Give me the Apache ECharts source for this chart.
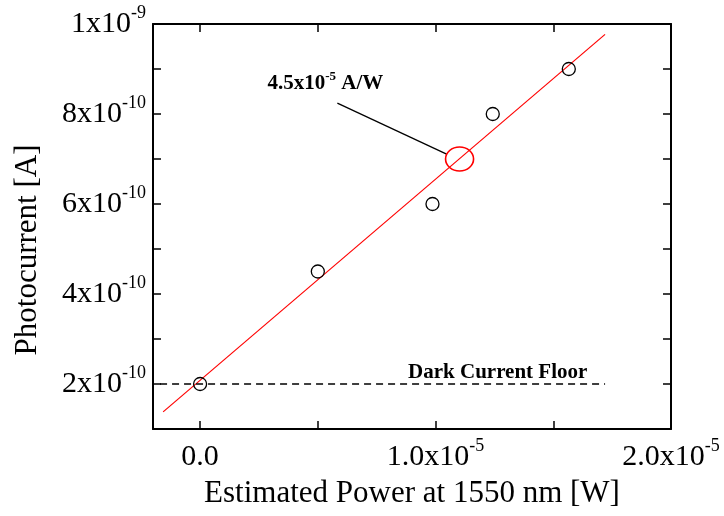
<!DOCTYPE html>
<html>
<head>
<meta charset="utf-8">
<script src="https://cdn.jsdelivr.net/npm/echarts@6/dist/echarts.min.js"></script>
<style>html,body{margin:0;padding:0;background:#fff}#c{width:724px;height:516px}</style>
</head>
<body>
<div id="c"></div>
<script>
// Measured data (power in W, photocurrent in A)
const powerW = [0, 0.5e-5, 0.987e-5, 1.243e-5, 1.566e-5];
const currentA = [2e-10, 4.5e-10, 6e-10, 8e-10, 9e-10];
// Linear fit line (4.5x10^-5 A/W) endpoints
const fitX = [-0.157e-5, 1.72e-5];
const fitY = [1.38e-10, 9.77e-10];
// Dark current floor
const floorX = [-0.17e-5, 1.72e-5];
const floorY = [2e-10, 2e-10];
// Annotation: ellipse on fit line, leader line, labels
const ellipseX = [1.102e-5];
const ellipseY = [7.0e-10];
const leaderX = [0.583e-5, 1.047e-5];
const leaderY = [8.24e-10, 7.11e-10];
const annotX = [0.532e-5];
const annotY = [8.67e-10];
const floorLabelX = [1.264e-5];
const floorLabelY = [2.244e-10];
// Axes
const xRange = [-0.2e-5, 2.0e-5];
const yRange = [1e-10, 1e-9];
const xTickValues = [0, 0.5e-5, 1.0e-5, 1.5e-5, 2.0e-5];
const xLabelValues = [0, 1.0e-5, 2.0e-5];
const yTickValues = [2e-10, 3e-10, 4e-10, 5e-10, 6e-10, 7e-10, 8e-10, 9e-10, 1e-9];
const yLabelValues = [2e-10, 4e-10, 6e-10, 8e-10, 1e-9];
const xTitle = 'Estimated Power at 1550 nm [W]';
const yTitle = 'Photocurrent [A]';

const FONT = '"Liberation Serif", "DejaVu Serif", serif';
const rich = {
  m: {fontFamily: FONT, fontSize: 30, color: '#000', lineHeight: 40, verticalAlign: 'middle'},
  sup: {fontFamily: FONT, fontSize: 18, color: '#000', lineHeight: 18, verticalAlign: 'top'}
};
const annotRich = {
  b: {fontFamily: FONT, fontSize: 21, fontWeight: 'bold', color: '#000', lineHeight: 28, verticalAlign: 'middle'},
  s: {fontFamily: FONT, fontSize: 13, fontWeight: 'bold', color: '#000', lineHeight: 13, verticalAlign: 'top'}
};
function xFmt(v) {
  const m = Math.round(v / 1e-6) / 10;
  if (Math.abs(m) < 1e-9) return '{m|0.0}';
  return '{m|' + m.toFixed(1) + 'x10}{sup|-5}';
}
function yFmt(v) {
  const n = Math.round(v / 1e-10);
  if (n === 10) return '{m|1x10}{sup|-9}';
  return '{m|' + n + 'x10}{sup|-10}';
}
const axisLine = {show: true, onZero: false, lineStyle: {color: '#000', width: 2}};
const tick = (vals) => ({show: true, inside: true, length: 8, customValues: vals, lineStyle: {color: '#000', width: 1.5}});
const pairs = (xs, ys) => xs.map((x, i) => [x, ys[i]]);

const chart = echarts.init(document.getElementById('c'), null, {renderer: 'canvas'});
chart.setOption({
  animation: false,
  backgroundColor: '#fff',
  grid: {left: 153, right: 53, top: 24, bottom: 87, containLabel: false},
  xAxis: [
    {type: 'value', position: 'bottom', min: xRange[0], max: xRange[1],
     axisLine, axisTick: tick(xTickValues), splitLine: {show: false},
     axisLabel: {show: true, customValues: xLabelValues, formatter: xFmt, rich, margin: 8, hideOverlap: false, showMinLabel: true, showMaxLabel: true}},
    {type: 'value', position: 'top', min: xRange[0], max: xRange[1],
     axisLine, axisTick: tick(xTickValues), splitLine: {show: false}, axisLabel: {show: false}}
  ],
  yAxis: [
    {type: 'value', position: 'left', min: yRange[0], max: yRange[1],
     axisLine, axisTick: tick(yTickValues), splitLine: {show: false},
     axisLabel: {show: true, customValues: yLabelValues, formatter: yFmt, rich, margin: 7, hideOverlap: false, showMinLabel: true, showMaxLabel: true}},
    {type: 'value', position: 'right', min: yRange[0], max: yRange[1],
     axisLine, axisTick: tick(yTickValues), splitLine: {show: false}, axisLabel: {show: false}}
  ],
  graphic: [
    {type: 'text', x: 28, y: 250, rotation: Math.PI / 2,
     style: {text: yTitle, font: '31px ' + FONT, fill: '#000', textAlign: 'center', textVerticalAlign: 'middle'}},
    {type: 'text', x: 412, y: 494,
     style: {text: xTitle, font: '31px ' + FONT, fill: '#000', textAlign: 'center', textVerticalAlign: 'middle'}}
  ],
  series: [
    {type: 'line', data: pairs(fitX, fitY), symbol: 'none', silent: true,
     lineStyle: {color: '#ff0000', width: 1.2, opacity: 1}, z: 2},
    {type: 'line', data: pairs(floorX, floorY), symbol: 'none', silent: true,
     lineStyle: {color: '#000', width: 1.5, type: [7, 5], opacity: 1}, z: 2},
    {type: 'line', data: pairs(leaderX, leaderY), symbol: 'none', silent: true,
     lineStyle: {color: '#000', width: 1.3, opacity: 1}, z: 2},
    {type: 'scatter', data: pairs(ellipseX, ellipseY), symbol: 'circle', symbolSize: [28, 24], silent: true,
     itemStyle: {color: 'rgba(0,0,0,0)', borderColor: '#ff0000', borderWidth: 1.5, opacity: 1}, z: 3},
    {type: 'scatter', data: pairs(powerW, currentA), symbol: 'circle', symbolSize: 13, silent: true,
     itemStyle: {color: 'rgba(0,0,0,0)', borderColor: '#000', borderWidth: 1.3, opacity: 1}, z: 4},
    {type: 'scatter', data: pairs(annotX, annotY), symbolSize: 1, silent: true,
     itemStyle: {color: 'rgba(0,0,0,0)', opacity: 1},
     label: {show: true, position: 'inside', color: '#000', opacity: 1, formatter: '{b|4.5x10}{s|-5}{b| A/W}', rich: annotRich}, z: 5},
    {type: 'scatter', data: pairs(floorLabelX, floorLabelY), symbolSize: 1, silent: true,
     itemStyle: {color: 'rgba(0,0,0,0)', opacity: 1},
     label: {show: true, position: 'inside', color: '#000', opacity: 1, formatter: '{b|Dark Current Floor}', rich: annotRich}, z: 5}
  ]
});
</script>
</body>
</html>
